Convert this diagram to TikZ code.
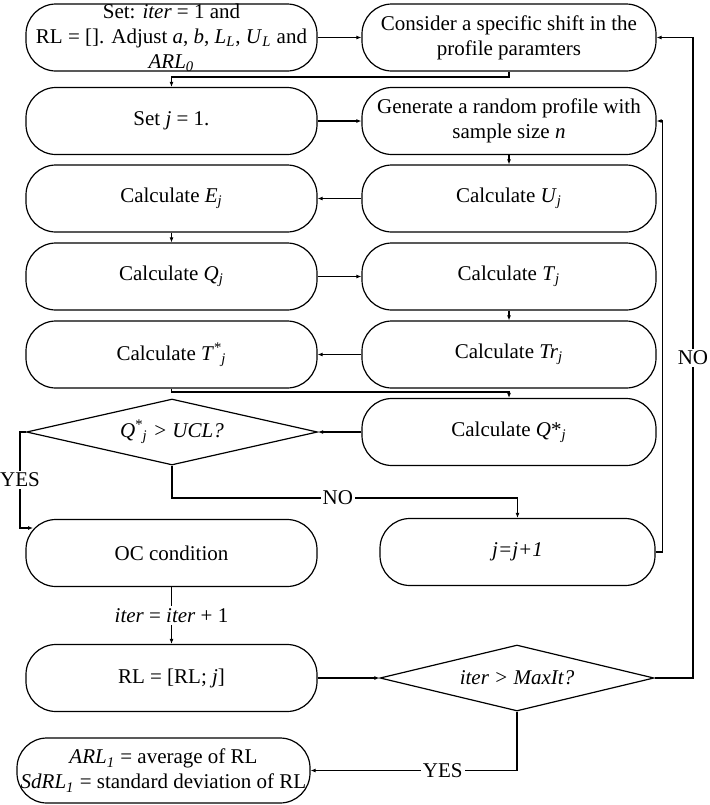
\documentclass[tikz,border=0pt]{standalone}
\usepackage{fontspec}
\setmainfont{Liberation Serif}
\usetikzlibrary{arrows.meta,shapes.geometric}
\newcommand{\sub}[1]{\textsubscript{\textit{#1}}}
\begin{document}
\begin{tikzpicture}[x=0.5pt,y=-0.5pt,line width=0.6pt,>={Latex[length=2.5pt,width=2pt]},
    font=\fontsize{10.5}{12.5}\selectfont,
    proc/.style={draw,rounded corners=15pt,minimum width=145.5pt,minimum height=33.5pt,align=center,inner sep=0pt},
    procr/.style={proc,minimum width=147pt},
    test/.style={draw,diamond,aspect=4.4,minimum width=145.5pt,minimum height=33pt,inner sep=0pt},
    tag/.style={fill=white,inner sep=1pt}]
        \useasboundingbox (0,0) rectangle (709,805);
        \node[proc,label={[align=center]center:{Set: \textit{iter} = 1 and\\RL = []. Adjust \textit{a}, \textit{b}, \textit{L}\sub{L}, \textit{U}\sub{L} and\\\textit{ARL}\sub{0}}}] (init) at (171.5,37.5) {};
        \node[procr] (shift) at (509,37.5) {Consider a specific shift in the\\profile paramters};
        \node[proc] (setj) at (171.5,121) {Set \textit{j} = 1.};
        \node[procr] (gen) at (509,121) {Generate a random profile with\\sample size \textit{n}};
        \node[proc] (Ej) at (171.5,198.5) {Calculate \textit{E}\sub{j}};
        \node[procr] (Uj) at (509,198.5) {Calculate \textit{U}\sub{j}};
        \node[proc] (Qj) at (171.5,276.5) {Calculate \textit{Q}\sub{j}};
        \node[procr] (Tj) at (509,276.5) {Calculate \textit{T}\sub{j}};
        \node[proc] (Tsj) at (171.5,354.5) {Calculate \textit{T}\textsuperscript{*}\kern-0.5pt\sub{j}};
        \node[procr] (Trj) at (509,354.5) {Calculate \textit{Tr}\sub{j}};
        \node[test] (dec1) at (172,432) {\textit{Q}\textsuperscript{*}\kern-0.5pt\sub{j} \textit{> UCL?}};
        \node[procr] (Qsj) at (509,432) {Calculate \textit{Q}*\sub{j}};
        \node[proc] (oc) at (171.5,553) {OC condition};
        \node[proc,minimum width=137.5pt] (inc) at (517.5,552) {\textit{j=j+1}};
        \node[proc] (rl) at (171.5,678) {RL = [RL; \textit{j}]};
        \node[test,minimum width=137pt] (dec2) at (517,678) {\textit{iter > MaxIt?}};
        \node[proc,minimum width=146.5pt,minimum height=32.5pt] (final) at (163.5,770.5) {\textit{ARL}\sub{1} = average of RL\\\textit{SdRL}\sub{1} = standard deviation of RL};
        \coordinate (a1) at (171.5,77);
        \coordinate (a2) at (509,392);
        \coordinate (a3) at (20,432);
        \coordinate (a4) at (33,528);
        \coordinate (a5) at (517.5,498);
        \coordinate (a6) at (693,678);
        \draw[->] (init) -- (shift);
        \draw[->] (shift.south) |- (a1) -- (setj.north);
        \draw[->] (setj) -- (gen);
        \draw[->] (gen) -- (Uj);
        \draw[->] (Uj) -- (Ej);
        \draw[->] (Ej) -- (Qj);
        \draw[->] (Qj) -- (Tj);
        \draw[->] (Tj) -- (Trj);
        \draw[->] (Trj) -- (Tsj);
        \draw[->] (Tsj.south) |- (a2) -- (Qsj.north);
        \draw[->] (Qsj) -- (dec1);
        \draw[->] (dec1.west) -- (a3) -- node[tag] (yes1) {YES} (a3 |- a4) -- (a4);
        \draw[->] (dec1.south) |- node[tag,pos=0.74] (no1) {NO} (a5) -- (inc.north);
        \draw[->] (inc.east) -- ++(7,0) |- (gen.east);
        \draw[->] (oc) -- node[tag] (it) {\textit{iter} = \textit{iter} + 1} (rl);
        \draw[->] (rl) -- (dec2);
        \draw[->] (dec2.east) -- (a6) -- node[tag] (no2) {NO} (a6 |- shift.east) -- (shift.east);
        \draw[->] (dec2.south) |- node[tag,pos=0.68] (yes2) {YES} (final.east);
    \end{tikzpicture}
\end{document}
